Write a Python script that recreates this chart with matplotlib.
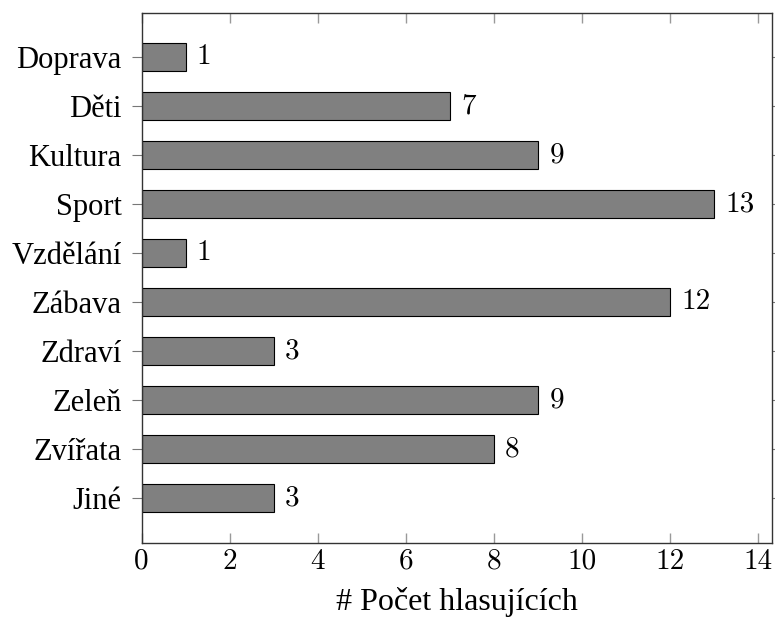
import matplotlib
matplotlib.use('Agg')
import matplotlib.pyplot as plt

categories = ['Doprava', 'Děti', 'Kultura', 'Sport', 'Vzdělání',
              'Zábava', 'Zdraví', 'Zeleň', 'Zvířata', 'Jiné']
votes = [1, 7, 9, 13, 1, 12, 3, 9, 8, 3]
x_ticks = [0, 2, 4, 6, 8, 10, 12, 14]

# numbers in Computer Modern, words (with Czech accents) in a serif that has them
NUM_FONT = ['cmr10', 'DejaVu Serif']
TXT_FONT = ['Liberation Serif', 'DejaVu Serif']

plt.rcParams['font.family'] = NUM_FONT
plt.rcParams['axes.formatter.use_mathtext'] = True
plt.rcParams['font.size'] = 21

fig = plt.figure(figsize=(7.75, 6.19), dpi=100)
ax = fig.add_axes([0.1828, 0.1228, 0.8129, 0.8562])

ypos = list(range(len(categories)))
bars = ax.barh(ypos, votes, height=0.56, color='#808080',
               edgecolor='black', linewidth=0.8)
ax.bar_label(bars, labels=[str(v) for v in votes], padding=8, fontsize=21)

ax.set_xlim(0, 14.3)
ax.set_ylim(9.92, -0.9)
ax.set_yticks(ypos)
ax.set_yticklabels(categories, family=TXT_FONT, fontsize=22)
ax.set_xticks(x_ticks)
ax.set_xticklabels([str(t) for t in x_ticks])

ax.tick_params(axis='x', direction='in', top=True, bottom=True,
               length=7, width=1.0, color='#999999', pad=4)
ax.tick_params(axis='y', direction='out', left=True, right=True,
               length=7.5, width=0.8, color='#777777', pad=7)

for s in ax.spines.values():
    s.set_color('#333333')
    s.set_linewidth(1.0)

ax.set_xlabel('# Počet hlasujících', family=TXT_FONT, fontsize=23, labelpad=9)

fig.savefig('out.png', dpi=100)
